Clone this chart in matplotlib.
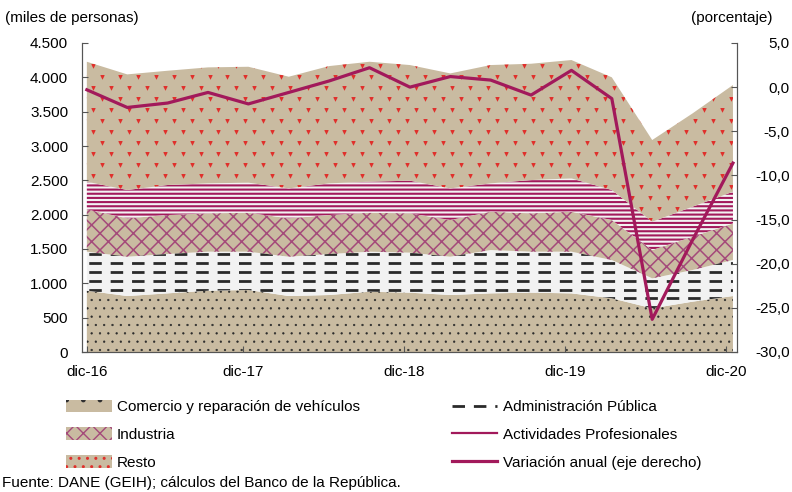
import numpy as np
import matplotlib as mpl
import matplotlib.pyplot as plt
from matplotlib.patches import Patch
from matplotlib.lines import Line2D
from matplotlib.ticker import FuncFormatter

plt.rcParams['font.family'] = ['Liberation Sans', 'DejaVu Sans']

# data (miles de personas), dic-16 .. dic-20 trimestral
periodos = ['dic-16', 'mar-17', 'jun-17', 'sep-17', 'dic-17', 'mar-18', 'jun-18', 'sep-18',
            'dic-18', 'mar-19', 'jun-19', 'sep-19', 'dic-19', 'mar-20', 'jun-20', 'sep-20', 'dic-20']
comercio = [893, 815, 854, 893, 903, 815, 830, 878, 864, 830, 854, 864, 854, 782, 636, 733, 815]
administracion = [568, 573, 573, 568, 558, 573, 597, 583, 583, 558, 631, 597, 607, 558, 437, 461, 525]
industria = [616, 558, 568, 558, 567, 558, 568, 567, 572, 534, 558, 558, 582, 582, 412, 485, 533]
actividades = [403, 413, 437, 437, 438, 437, 461, 452, 476, 461, 413, 485, 485, 437, 412, 437, 461]
resto = [1747, 1684, 1664, 1689, 1688, 1626, 1708, 1747, 1684, 1674, 1723, 1694, 1724, 1641, 1190, 1359, 1554]
variacion = [-0.3, -2.3, -1.8, -0.6, -1.9, -0.6, 0.7, 2.2, 0.0, 1.2, 0.8, -0.9, 1.9, -1.3, -26.3, -17.3, -8.6]

tan = '#C9BBA1'
gris = '#F2F2F2'
morado = '#A2195B'
rojo = '#E0302C'
fs = 11

x = np.arange(len(periodos))
capas = [comercio, administracion, industria, actividades, resto]
tops = np.cumsum(np.array(capas, dtype=float), axis=0)
bottoms = np.vstack([np.zeros(len(x)), tops[:-1]])

fig = plt.figure(figsize=(7.92, 4.92), dpi=100)
ax = fig.add_axes([82 / 792, 1 - 352 / 492, (737 - 82) / 792, (352 - 43) / 492])
ax2 = ax.twinx()

# Comercio: puntos
with mpl.rc_context({'hatch.linewidth': 0.4}):
    c0 = ax.fill_between(x, bottoms[0], tops[0], facecolor=tan, edgecolor='#2a2a2a',
                         hatch='..', linewidth=0)
# Administración: rayas discontinuas
c1 = ax.fill_between(x, bottoms[1], tops[1], facecolor=gris, linewidth=0)
for yy in np.arange(0, 4500, 130):
    ln, = ax.plot([-1, 17], [yy, yy], color='#2a2a2a', lw=2.0, dashes=(4.5, 3.2))
    ln.set_clip_path(c1.get_paths()[0], ax.transData)
# Industria: rombos
with mpl.rc_context({'hatch.linewidth': 1.1}):
    c2 = ax.fill_between(x, bottoms[2], tops[2], facecolor=tan, edgecolor='#A4497A',
                         hatch='xx', linewidth=0)
# Actividades profesionales: líneas horizontales
with mpl.rc_context({'hatch.linewidth': 1.5}):
    c3 = ax.fill_between(x, bottoms[3], tops[3], facecolor=gris, edgecolor=morado,
                         hatch='----', linewidth=0)
# Resto: marcas rojas (rejilla escalonada)
c4 = ax.fill_between(x, bottoms[4], tops[4], facecolor=tan, linewidth=0)
gx, gy = np.meshgrid(np.arange(-0.3, 17, 0.445), np.arange(0, 4500, 320))
gx2 = gx + 0.2225
gy2 = gy + 160
px = np.concatenate([gx.ravel(), gx2.ravel()])
py = np.concatenate([gy.ravel(), gy2.ravel()])
sc = ax.scatter(px, py, marker='v', s=11, color=rojo, linewidths=0)
sc.set_clip_path(c4.get_paths()[0], ax.transData)

ax2.plot(x, variacion, color=morado, lw=2.3)

ax.set_xlim(-0.12, 16.1)
ax.set_ylim(0, 4500)
ax2.set_ylim(-30, 5)
ax.set_yticks(np.arange(0, 4501, 500))
ax2.set_yticks(np.arange(-30, 5.1, 5))
ax.yaxis.set_major_formatter(FuncFormatter(lambda v, p: f'{v:,.0f}'.replace(',', '.')))
ax2.yaxis.set_major_formatter(FuncFormatter(lambda v, p: f'{v:.1f}'.replace('.', ',')))
ax.set_xticks([0, 3.86, 7.85, 11.84, 15.82])
ax.set_xticklabels(['dic-16', 'dic-17', 'dic-18', 'dic-19', 'dic-20'])

for a in (ax, ax2):
    a.spines['top'].set_visible(False)
    for s in a.spines.values():
        s.set_color('#555555')
ax.tick_params(axis='both', direction='in', length=4, color='#555555', labelsize=fs)
ax.tick_params(axis='y', pad=10)
ax.tick_params(axis='x', pad=9)
ax2.tick_params(axis='y', direction='in', length=4, color='#555555', labelsize=fs, pad=38)
for t in ax2.get_yticklabels():
    t.set_horizontalalignment('right')

fig.text(5 / 792, 1 - 18 / 492, '(miles de personas)', fontsize=fs, va='center')
fig.text(772 / 792, 1 - 18 / 492, '(porcentaje)', fontsize=fs, va='center', ha='right')
fig.text(2 / 792, 1 - 483 / 492, 'Fuente: DANE (GEIH); cálculos del Banco de la República.',
         fontsize=fs, va='center')

handles = [
    Patch(facecolor=tan, edgecolor='#303030', hatch='.', linewidth=0),
    Patch(facecolor=tan, edgecolor='#A4497A', hatch='xx', linewidth=0),
    Patch(facecolor=tan, edgecolor=rojo, hatch='..', linewidth=0),
    Line2D([], [], color='#2a2a2a', lw=2.0, dashes=(4.5, 3.2)),
    Line2D([], [], color=morado, lw=1.6),
    Line2D([], [], color=morado, lw=2.3),
]
labels = ['Comercio y reparación de vehículos', 'Industria', 'Resto',
          'Administración Pública', 'Actividades Profesionales', 'Variación anual (eje derecho)']
fig.legend(handles, labels, ncol=2, loc='upper left', bbox_to_anchor=(52 / 792, 1 - 386 / 492),
           frameon=False, fontsize=fs, handlelength=3.0, handleheight=0.9,
           columnspacing=6.0, labelspacing=0.85, handletextpad=0.35)

fig.savefig('out.png', dpi=100)
